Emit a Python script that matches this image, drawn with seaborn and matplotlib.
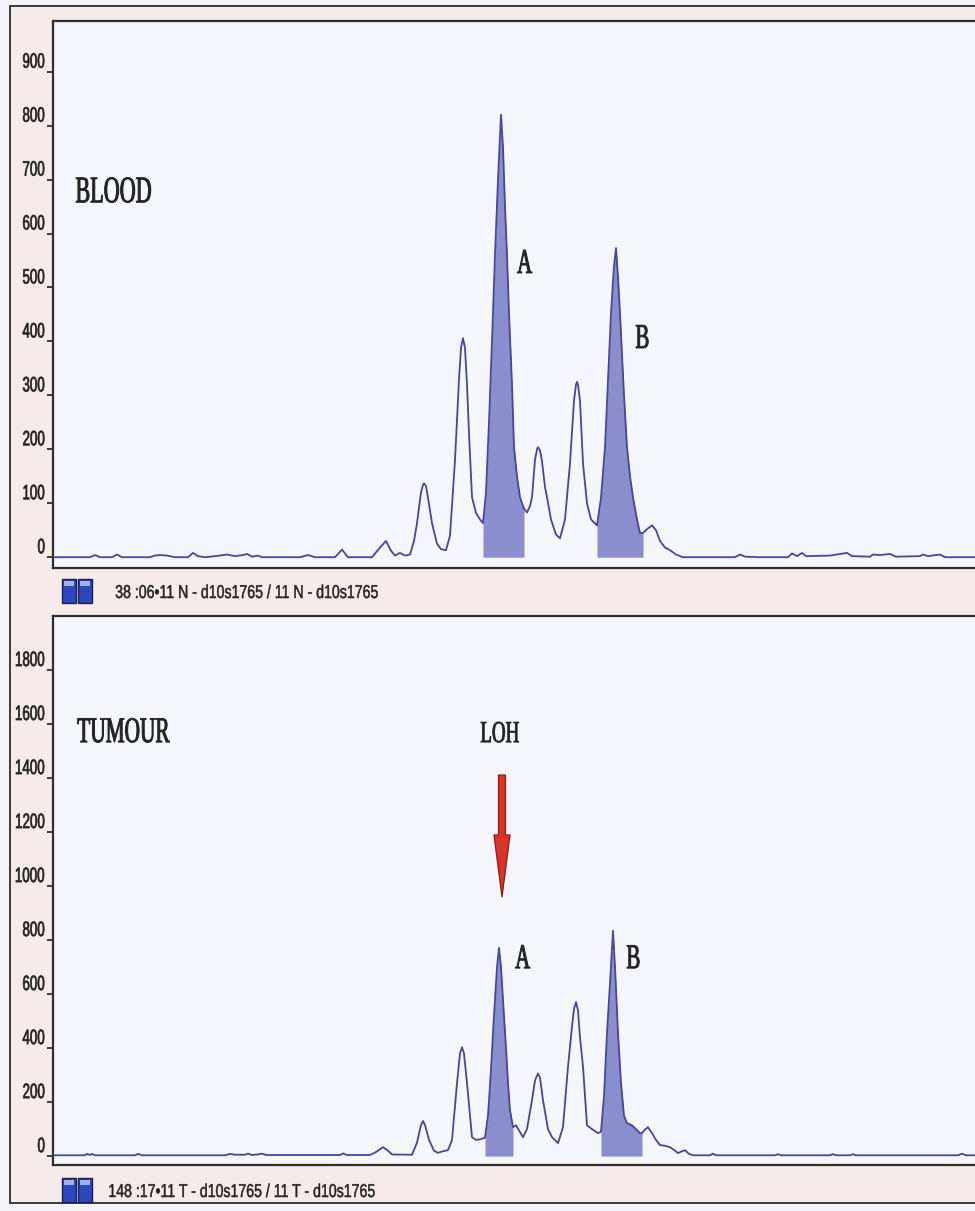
import numpy as np
import matplotlib
matplotlib.use("Agg")
import matplotlib.pyplot as plt
import seaborn as sns
from matplotlib.patheffects import AbstractPathEffect
from matplotlib.transforms import Affine2D
from matplotlib.patches import Rectangle, FancyArrow

# ---------------- data ----------------
blood_scan = [53, 90, 95, 100, 112, 117, 122, 150, 155, 160, 167, 175, 188, 193, 198, 205,
              220, 227, 235, 243, 247, 252, 258, 262, 300, 308, 315, 335, 342, 348, 372, 380,
              386, 391, 395, 400, 405,
              410, 414, 417, 421, 423, 424, 426, 428, 432, 437, 441, 446,
              450, 455, 459, 461, 463, 465, 467, 469, 472, 476, 480, 483,
              486, 489, 492, 495, 498, 501, 503, 505, 507, 509, 512, 514, 517, 520, 524, 527,
              530, 532, 535, 537, 538, 540, 542, 545, 547, 551, 556, 560,
              565, 570, 574, 576, 577, 578, 580, 583, 587, 591, 597,
              601, 605, 608, 611, 614, 616, 618, 620, 624, 627, 630, 633, 637, 640, 643, 647,
              652, 656, 660, 665, 670, 676, 683,
              700, 735, 740, 745, 760, 788, 792, 797, 802, 806, 830, 840, 847, 852, 870, 873,
              880, 890, 896, 920, 923, 928, 940, 945, 975]
blood_rfu = [0, 0, 4, 0, 0, 5, 0, 0, 3, 4, 3, 0, 0, 8, 2, 0,
             3, 5, 2, 4, 6, 1, 3, 0, 0, 4, 0, 0, 14, 0, 0, 18,
             30, 12, 3, 8, 3,
             5, 30, 63, 120, 134, 137, 132, 110, 63, 25, 15, 13,
             40, 180, 330, 388, 406, 388, 320, 230, 111, 82, 70, 63,
             120, 250, 400, 560, 700, 820, 760, 650, 560, 452, 320, 204, 150, 111, 90, 83,
             95, 111, 180, 200, 204, 198, 178, 130, 111, 70, 42, 35,
             70, 174, 290, 320, 325, 320, 290, 174, 100, 70, 59,
             110, 204, 330, 452, 540, 573, 520, 452, 300, 204, 150, 111, 70, 45, 45, 52,
             59, 50, 30, 18, 13, 5, 0,
             0, 0, 5, 1, 0, 0, 7, 2, 8, 2, 3, 6, 8, 2, 1, 5,
             4, 6, 1, 2, 5, 2, 5, 0, 0]

tumour_scan = [53, 85, 87, 90, 92, 95, 135, 138, 142, 225, 230, 235, 245, 248, 252, 258,
               262, 266, 340, 343, 347, 370, 376, 383, 388, 392,
               412, 417, 421, 423, 425, 429, 434, 438, 443, 448, 452, 457, 460, 462, 464, 467,
               472, 476, 480, 485,
               488, 491, 494, 497, 499, 501, 503, 506, 508, 510, 513, 516, 519, 523,
               527, 532, 535, 538, 540, 543, 548, 552, 558,
               563, 568, 572, 574, 576, 578, 580, 583, 587, 592, 598,
               601, 604, 607, 610, 613, 615, 618, 621, 624, 627, 632, 636, 640, 642, 645, 648,
               652, 656, 660, 665, 670, 675, 678, 682, 685, 689, 693,
               710, 713, 716, 775, 778, 781, 830, 833, 836, 850, 853, 856, 958, 962, 966, 975]
tumour_rfu = [3, 3, 8, 4, 8, 3, 3, 8, 3, 3, 8, 5, 5, 9, 4, 6,
              9, 4, 4, 10, 4, 4, 15, 33, 20, 6,
              5, 50, 115, 130, 115, 60, 20, 12, 18, 22, 59, 270, 380, 403, 380, 270,
              70, 60, 62, 68,
              150, 320, 520, 700, 771, 700, 578, 400, 270, 170, 107, 114, 95, 70,
              100, 207, 280, 306, 290, 207, 100, 70, 48,
              107, 331, 480, 545, 570, 540, 440, 331, 114, 100, 85,
              90, 220, 455, 640, 834, 700, 455, 270, 150, 122, 114, 100, 85, 85, 98, 107,
              85, 60, 41, 38, 33, 20, 11, 18, 22, 8, 3,
              3, 9, 3, 3, 7, 3, 3, 7, 3, 3, 7, 3, 3, 9, 3, 3]

blood_ticks = [0, 100, 200, 300, 400, 500, 600, 700, 800, 900]
tumour_ticks = [0, 200, 400, 600, 800, 1000, 1200, 1400, 1600, 1800]

# scan windows of the called alleles (shaded peaks)
blood_alleles = {"A": (483, 524), "B": (597, 643)}
tumour_alleles = {"A": (485, 513), "B": (601, 642)}

blood_footer = "38 :06\u202211 N - d10s1765 / 11 N - d10s1765"
tumour_footer = "148 :17\u202211 T - d10s1765 / 11 T - d10s1765"

# ---------------- styling ----------------
W, H = 975, 1211
FIG_BG = "#f3f3fa"
FRAME_BG = "#f6ebeb"
PLOT_BG = "#f5f5fc"
LINE = "#46469a"
FILL = "#8a8ecd"
SPINE = "#2e2e2e"
TXT = "#222222"
SANS = ["Liberation Sans", "DejaVu Sans"]
SERIF = ["Liberation Serif", "DejaVu Serif"]

sns.set_style("white")
plt.rcParams["font.family"] = SANS


class Squeeze(AbstractPathEffect):
    """Narrow the glyphs horizontally (the scan is condensed) and thicken strokes."""

    def __init__(self, sx, anchor="left", stroke=0.0):
        super().__init__()
        self.sx = sx
        self.anchor = anchor
        self.stroke = stroke

    def draw_path(self, renderer, gc, tpath, affine, rgbFace=None):
        bb = tpath.get_extents(affine)
        if self.anchor == "left":
            a = bb.x0
        elif self.anchor == "right":
            a = bb.x1
        else:
            a = 0.5 * (bb.x0 + bb.x1)
        t = affine + Affine2D().translate(-a, 0).scale(self.sx, 1.0).translate(a, 0)
        if self.stroke > 0 and rgbFace is not None:
            gc0 = renderer.new_gc()
            gc0.copy_properties(gc)
            gc0.set_linewidth(self.stroke)
            gc0.set_foreground(rgbFace)
            gc0.set_joinstyle("round")
            renderer.draw_path(gc0, tpath, t, rgbFace)
            gc0.restore()
        else:
            renderer.draw_path(gc, tpath, t, rgbFace)


def fx(px):
    return px / W


def fy(py):
    return 1 - py / H


fig = plt.figure(figsize=(W / 100, H / 100), dpi=100, facecolor=FIG_BG)

# outer frame
fig.add_artist(Rectangle((fx(10), fy(1203)), 1.2, (1203 - 6) / H, transform=fig.transFigure,
                         facecolor=FRAME_BG, edgecolor="#3c3c3c", linewidth=1.4, zorder=-5))

ax1 = fig.add_axes([fx(53), fy(568), 1 - fx(53), (568 - 21) / H])
ax2 = fig.add_axes([fx(53), fy(1165), 1 - fx(53), (1165 - 616) / H])


def panel(ax, scan, rfu, ticks, alleles, ylim):
    ax.set_facecolor(PLOT_BG)
    s = np.asarray(scan, dtype=float)
    r = np.asarray(rfu, dtype=float)
    for lo, hi in alleles.values():
        m = (s >= lo) & (s <= hi)
        ax.fill_between(s, 0, r, where=m, color=FILL, linewidth=0, zorder=2)
    sns.lineplot(x=s, y=r, ax=ax, sort=False, estimator=None, color=LINE,
                 linewidth=1.3, zorder=3)
    ax.set_xlim(53, 975)
    ax.set_ylim(*ylim)
    ax.set_xticks([])
    ax.set_xlabel("")
    ax.set_ylabel("")
    ax.set_yticks(ticks, [str(t) for t in ticks])
    ax.tick_params(axis="y", direction="out", length=4, width=1.3, color=SPINE, pad=1.5,
                   labelsize=15, labelcolor=TXT, left=True)
    for lab in ax.get_yticklabels():
        lab.set_verticalalignment("bottom")
        lab.set_path_effects([Squeeze(0.64, "right", stroke=0.5)])
    for side in ("left", "bottom", "top"):
        ax.spines[side].set_visible(True)
        ax.spines[side].set_color(SPINE)
        ax.spines[side].set_linewidth(1.6)
    ax.spines["right"].set_visible(False)


panel(ax1, blood_scan, blood_rfu, blood_ticks, blood_alleles, (-20, 994))
panel(ax2, tumour_scan, tumour_rfu, tumour_ticks, tumour_alleles, (-33, 2000))

serif_kw = dict(family=SERIF, color=TXT, ha="left", va="baseline")
ax1.text(75, 658, "BLOOD", fontsize=27, path_effects=[Squeeze(0.59, stroke=0.7)], **serif_kw)
ax1.text(517, 527, "A", fontsize=25, path_effects=[Squeeze(0.6, stroke=0.7)], **serif_kw)
ax1.text(635, 388, "B", fontsize=25, path_effects=[Squeeze(0.6, stroke=0.7)], **serif_kw)
ax2.text(77, 1533, "TUMOUR", fontsize=26, path_effects=[Squeeze(0.59, stroke=0.7)], **serif_kw)
ax2.text(480, 1533, "LOH", fontsize=22, path_effects=[Squeeze(0.62, stroke=0.6)], **serif_kw)
ax2.text(515, 696, "A", fontsize=25, path_effects=[Squeeze(0.6, stroke=0.7)], **serif_kw)
ax2.text(626, 696, "B", fontsize=25, path_effects=[Squeeze(0.6, stroke=0.7)], **serif_kw)

# LOH arrow
ax2.add_patch(FancyArrow(502, 1411, 0, 959 - 1411, width=7, head_width=16, head_length=230,
                         length_includes_head=True, facecolor="#d8342a", edgecolor="#8e1a12",
                         linewidth=0.9, zorder=5))

# footers with the dye icons
for ytop, text, xtxt, ybase in ((579, blood_footer, 115, 598), (1178, tumour_footer, 108, 1197)):
    for x0 in (62, 78):
        fig.add_artist(Rectangle((fx(x0), fy(ytop + 24)), 14 / W, 24 / H, transform=fig.transFigure,
                                 facecolor="#2c47bf", edgecolor="#1e1e46", linewidth=1.0, zorder=3))
        fig.add_artist(Rectangle((fx(x0 + 2), fy(ytop + 7)), 10 / W, 5 / H, transform=fig.transFigure,
                                 facecolor="#9fb2ee", edgecolor="none", zorder=4))
    fig.text(fx(xtxt), fy(ybase), text, fontsize=13.4, color=TXT, ha="left", va="baseline",
             family=SANS, path_effects=[Squeeze(0.76, stroke=0.35)])

fig.savefig("out.png", dpi=100, facecolor=FIG_BG)
